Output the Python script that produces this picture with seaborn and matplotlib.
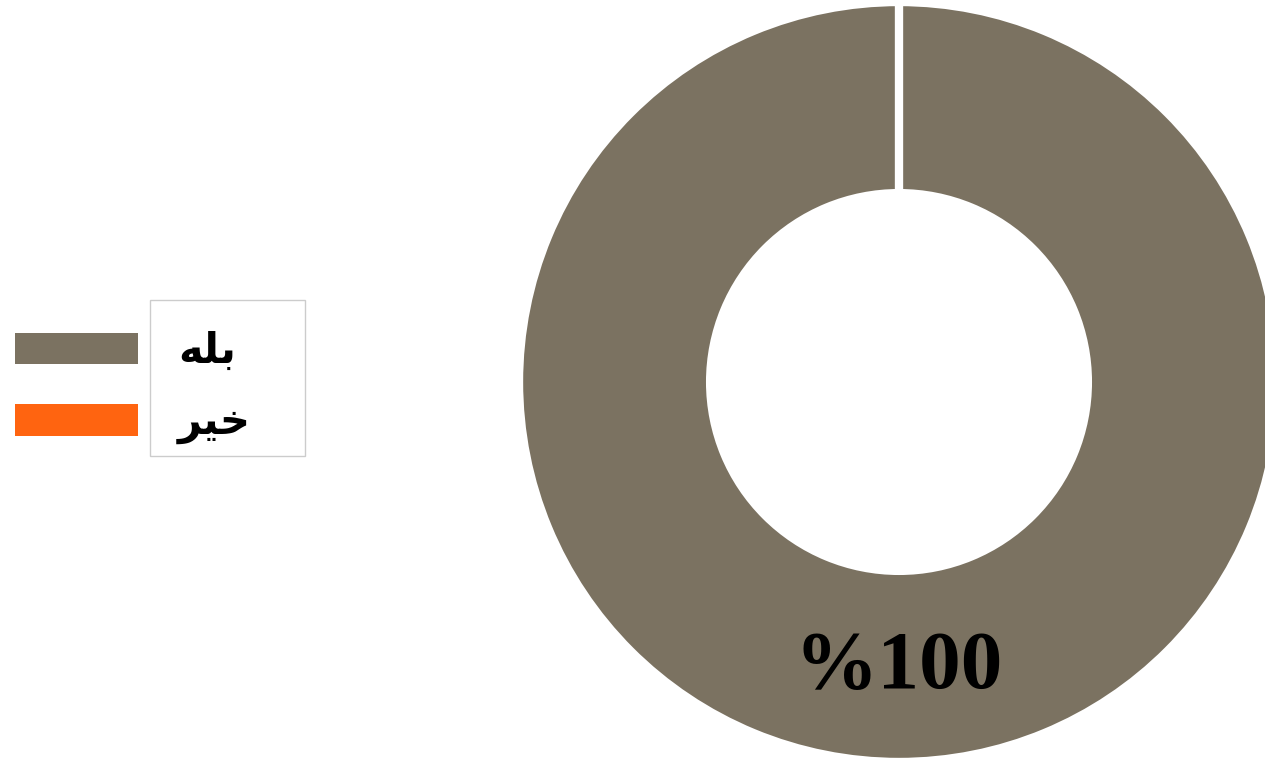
import matplotlib
matplotlib.use("Agg")
import matplotlib.pyplot as plt
import seaborn as sns
from matplotlib.patches import Rectangle, Patch

sns.set_theme(style="white")
plt.rcParams['font.family'] = ['DejaVu Sans']

# ---- data ----
categories = ["بله", "خیر"]
values = [100, 0]
colors = ["#7b7261", "#ff6410"]

# minimal Arabic shaping (matplotlib has no complex text layout)
FORMS = {  # isolated, final, initial, medial
    "ب": ("\uFE8F", "\uFE90", "\uFE91", "\uFE92"),
    "ل": ("\uFEDD", "\uFEDE", "\uFEDF", "\uFEE0"),
    "ه": ("\uFEE9", "\uFEEA", "\uFEEB", "\uFEEC"),
    "خ": ("\uFEA5", "\uFEA6", "\uFEA7", "\uFEA8"),
    "ی": ("\uFEEF", "\uFEF0", "\uFEF3", "\uFEF4"),
    "ر": ("\uFEAD", "\uFEAE", "\uFEAD", "\uFEAE"),
}
NONJOIN_LEFT = set("ر")

def shape(word):
    out = []
    n = len(word)
    for i, ch in enumerate(word):
        prev_joins = i > 0 and word[i - 1] not in NONJOIN_LEFT
        next_joins = i < n - 1 and ch not in NONJOIN_LEFT
        f = FORMS[ch]
        if prev_joins and next_joins:
            out.append(f[3])
        elif prev_joins:
            out.append(f[1])
        elif next_joins:
            out.append(f[2])
        else:
            out.append(f[0])
    return "".join(reversed(out))

W, H = 1265, 763
fig = plt.figure(figsize=(W / 100, H / 100), dpi=100)
fig.patch.set_facecolor("white")

cx, cy, R = 899, 381, 380
ax = fig.add_axes([(cx - R) / W, (cy - R) / H, 2 * R / W, 2 * R / H])

wedges, texts, autotexts = ax.pie(
    values, colors=colors, startangle=90, counterclock=False, radius=1.0,
    autopct=lambda p: f"%{p:.0f}" if p > 0 else "",
    pctdistance=0.755,
    wedgeprops=dict(width=0.503, edgecolor="white", linewidth=6),
    textprops=dict(family="Liberation Serif", weight="bold", fontsize=60, color="black"),
)
ax.set_xlim(-1, 1)
ax.set_ylim(-1, 1)
ax.set_aspect("equal")
ax.axis("off")

# legend handles (no frame) + separate box around labels
fs = 30
fspx = fs * 100 / 72
handles = [Patch(facecolor=c, edgecolor="none") for c in colors]
leg = fig.legend(handles, [shape(c) for c in categories],
                 loc="upper left", bbox_to_anchor=(0.0, 1 - 315 / H),
                 frameon=False, borderpad=15 / fspx, borderaxespad=0,
                 handlelength=123 / fspx, handleheight=33 / fspx,
                 handletextpad=40 / fspx, labelspacing=0.7,
                 prop=dict(family="DejaVu Sans", weight="bold", size=fs))
for t in leg.get_texts():
    t.set_color("black")

fig.add_artist(Rectangle((150 / W, 1 - 456 / H), 155 / W, 156 / H,
                         transform=fig.transFigure, fill=False,
                         edgecolor="#cccccc", linewidth=1))

fig.savefig("out.png", dpi=100, facecolor="white")
